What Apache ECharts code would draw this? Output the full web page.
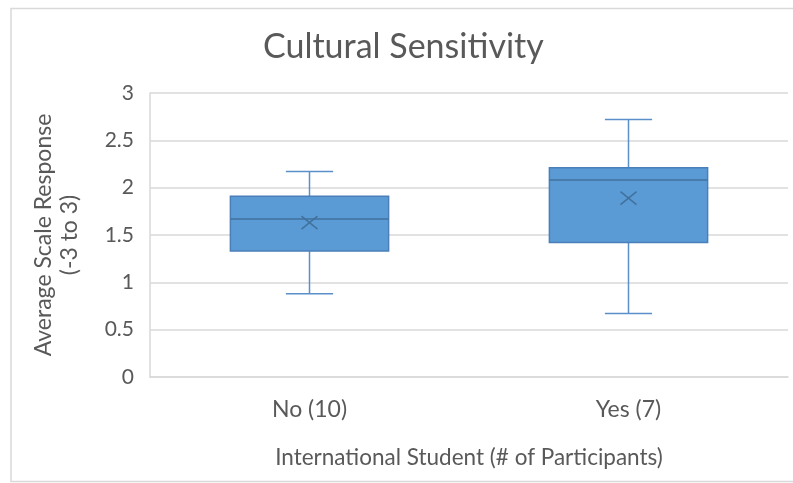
<!DOCTYPE html>
<html>
<head>
<meta charset="utf-8">
<script src="https://cdn.jsdelivr.net/npm/echarts@6/dist/echarts.min.js"></script>
<style>
  html, body { margin: 0; padding: 0; background: #fff; }
  #chart { width: 793px; height: 483px; }
</style>
</head>
<body>
<div id="chart"></div>
<script>
// Categories and box-and-whisker statistics
var categories = ['No (10)', 'Yes (7)'];
var whiskerLow = [0.88, 0.67];
var quartile1 = [1.33, 1.42];
var medians = [1.67, 2.08];
var quartile3 = [1.91, 2.21];
var whiskerHigh = [2.17, 2.72];
var means = [1.63, 1.89];
var yTicks = { min: 0, max: 3, interval: 0.5 };

var FONT = 'Lato';
var TEXT = '#595959';
var BOX_FILL = '#5B9BD5';
var BOX_LINE = '#4A7FBA';
var WHISKER = '#5A8FC9';

var seriesData = categories.map(function (c, i) {
  return [i, whiskerLow[i], quartile1[i], medians[i], quartile3[i], whiskerHigh[i], means[i]];
});

function renderBox(params, api) {
  var idx = api.value(0);
  var band = api.size([1, 0])[0];
  var boxHalf = band * 0.248;
  var capHalf = band * 0.074;
  var pLow = api.coord([idx, api.value(1)]);
  var pQ1 = api.coord([idx, api.value(2)]);
  var pMed = api.coord([idx, api.value(3)]);
  var pQ3 = api.coord([idx, api.value(4)]);
  var pHigh = api.coord([idx, api.value(5)]);
  var pMean = api.coord([idx, api.value(6)]);
  var cx = pQ1[0];
  var mx = 8, my = 6.5;
  var lineStyle = { stroke: WHISKER, lineWidth: 1.5 };
  return {
    type: 'group',
    children: [
      { type: 'line', shape: { x1: cx, y1: pHigh[1], x2: cx, y2: pQ3[1] }, style: lineStyle },
      { type: 'line', shape: { x1: cx - capHalf, y1: pHigh[1], x2: cx + capHalf, y2: pHigh[1] }, style: lineStyle },
      { type: 'line', shape: { x1: cx, y1: pQ1[1], x2: cx, y2: pLow[1] }, style: lineStyle },
      { type: 'line', shape: { x1: cx - capHalf, y1: pLow[1], x2: cx + capHalf, y2: pLow[1] }, style: lineStyle },
      { type: 'rect', shape: { x: cx - boxHalf, y: pQ3[1], width: boxHalf * 2, height: pQ1[1] - pQ3[1] },
        style: { fill: BOX_FILL, stroke: BOX_LINE, lineWidth: 1.5 } },
      { type: 'line', shape: { x1: cx - boxHalf, y1: pMed[1], x2: cx + boxHalf, y2: pMed[1] },
        style: { stroke: '#41719C', lineWidth: 1.5 } },
      { type: 'line', shape: { x1: pMean[0] - mx, y1: pMean[1] - my, x2: pMean[0] + mx, y2: pMean[1] + my },
        style: { stroke: '#41719C', lineWidth: 1.5 } },
      { type: 'line', shape: { x1: pMean[0] - mx, y1: pMean[1] + my, x2: pMean[0] + mx, y2: pMean[1] - my },
        style: { stroke: '#41719C', lineWidth: 1.5 } }
    ]
  };
}

var chart = echarts.init(document.getElementById('chart'), null, { renderer: 'canvas' });
chart.setOption({
  backgroundColor: '#ffffff',
  animation: false,
  title: {
    text: 'Cultural Sensitivity',
    left: 263,
    top: 30,
    padding: 0,
    textStyle: { fontFamily: FONT, fontSize: 34, fontWeight: 'normal', color: TEXT }
  },
  graphic: [{
    type: 'rect',
    shape: { x: 11, y: 8.5, width: 800, height: 473 },
    style: { fill: 'none', stroke: '#D9D9D9', lineWidth: 1.5 },
    silent: true
  }],
  grid: { left: 150, right: 5, top: 93, bottom: 106, containLabel: false },
  xAxis: {
    type: 'category',
    data: categories,
    name: 'International Student (# of Participants)',
    nameLocation: 'middle',
    nameGap: 69,
    nameTextStyle: { fontFamily: FONT, fontSize: 22.5, color: TEXT },
    axisLine: { show: true, lineStyle: { color: '#D9D9D9', width: 1.5 } },
    axisTick: { show: false },
    axisLabel: { fontFamily: FONT, fontSize: 23, color: TEXT, margin: 21 },
    splitLine: { show: false }
  },
  yAxis: {
    type: 'value',
    min: yTicks.min,
    max: yTicks.max,
    interval: yTicks.interval,
    name: 'Average Scale Response\n(-3 to 3)',
    nameLocation: 'middle',
    nameRotate: 90,
    nameGap: 67,
    nameTextStyle: { fontFamily: FONT, fontSize: 23, color: TEXT, lineHeight: 26 },
    axisLine: { show: true, lineStyle: { color: '#D9D9D9', width: 1.5 } },
    axisTick: { show: false },
    axisLabel: { fontFamily: FONT, fontSize: 21, color: TEXT, margin: 16 },
    splitLine: { show: true, lineStyle: { color: '#D9D9D9', width: 1.5 } }
  },
  series: [{
    type: 'custom',
    renderItem: renderBox,
    encode: { x: 0, y: [1, 2, 3, 4, 5, 6] },
    data: seriesData,
    z: 3
  }]
});
</script>
</body>
</html>
